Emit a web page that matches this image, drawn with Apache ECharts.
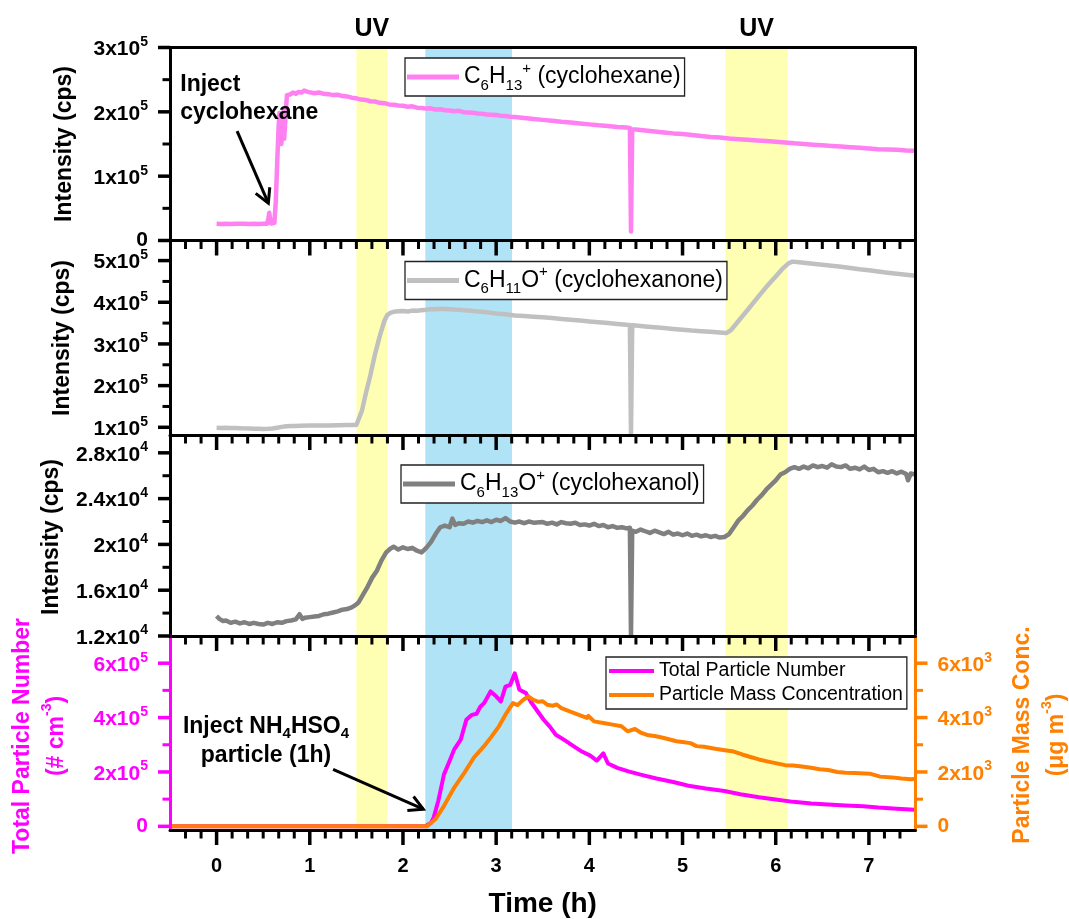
<!DOCTYPE html>
<html>
<head>
<meta charset="utf-8">
<script src="https://cdn.jsdelivr.net/npm/echarts@6/dist/echarts.min.js"></script>
<style>
  html, body { margin: 0; padding: 0; background: #fff; }
  #chart { width: 1069px; height: 919px; }
</style>
</head>
<body>
<div id="chart"></div>
<script>
// ---------- data ----------
// time axis (h)
const timeTicks = [0, 1, 2, 3, 4, 5, 6, 7];

// y tick values per panel
const cyclohexaneTicks = [0, 100000, 200000, 300000];
const cyclohexaneMinor = [50000, 150000, 250000];
const cyclohexanoneTicks = [100000, 200000, 300000, 400000, 500000];
const cyclohexanoneMinor = [150000, 250000, 350000, 450000];
const cyclohexanolTicks = [12000, 16000, 20000, 24000, 28000];
const cyclohexanolMinor = [14000, 18000, 22000, 26000];
const numberTicks = [0, 200000, 400000, 600000];
const numberMinor = [100000, 300000, 500000];
const massTicks = [0, 2000, 4000, 6000];
const massMinor = [1000, 3000, 5000];

// shaded periods [start h, end h, kind]
const periods = [[1.5, 1.833, 'uv'], [2.24, 3.17, 'seed'], [5.46, 6.13, 'uv']];

// C6H13+ (cyclohexane), cps
const cyclohexane = [[0.00,26200],[0.05,25800],[0.10,26000],[0.15,25700],[0.20,26100],[0.25,25900],[0.30,26200],[0.35,25800],[0.40,26000],[0.45,25700],[0.50,26100],[0.54,26000],[0.555,33000],[0.565,43000],[0.575,33000],[0.585,26500],[0.60,26800],[0.62,27500],[0.635,60000],[0.65,120000],[0.665,175000],[0.675,198000],[0.685,170000],[0.695,150000],[0.705,190000],[0.715,200000],[0.725,158000],[0.735,180000],[0.745,205000],[0.755,226000],[0.77,229000],[0.79,227000],[0.82,230000],[0.85,228000],[0.88,231000],[0.91,230000],[0.94,233000],[0.96,234000],[0.98,231000],[1.00,232000],[1.05,229000],[1.10,230000],[1.15,228000],[1.20,227500],[1.25,226000],[1.30,226500],[1.35,224500],[1.40,224000],[1.45,222000],[1.50,221000],[1.55,219000],[1.60,218500],[1.65,216500],[1.70,216000],[1.75,214000],[1.80,213500],[1.85,211500],[1.90,211000],[1.95,210000],[2.00,209500],[2.05,208000],[2.10,208500],[2.15,206500],[2.20,206000],[2.25,205000],[2.30,205500],[2.35,203500],[2.40,204000],[2.45,202500],[2.50,202000],[2.55,201000],[2.60,201500],[2.65,199500],[2.70,199000],[2.75,198500],[2.80,197500],[2.85,197000],[2.90,196000],[2.95,195500],[3.00,195000],[3.05,194000],[3.10,193500],[3.15,192500],[3.20,192000],[3.30,190500],[3.40,189000],[3.50,187500],[3.60,186000],[3.70,184500],[3.80,183500],[3.90,182000],[4.00,180500],[4.10,179000],[4.20,178000],[4.30,176500],[4.40,175500],[4.435,175000],[4.447,14000],[4.46,172500],[4.50,172500],[4.60,171000],[4.70,169500],[4.80,168000],[4.90,166500],[5.00,165500],[5.10,164000],[5.20,162500],[5.30,161000],[5.40,160000],[5.50,158500],[5.60,157500],[5.70,156500],[5.80,155500],[5.90,154500],[6.00,153500],[6.10,152500],[6.20,151000],[6.30,150000],[6.40,149000],[6.50,148000],[6.60,147000],[6.70,146000],[6.80,145000],[6.90,144000],[7.00,143000],[7.10,142000],[7.20,141500],[7.30,141000],[7.40,140000],[7.50,139500]];

// C6H11O+ (cyclohexanone), cps
const cyclohexanone = [[0.00,99000],[0.05,98500],[0.10,98800],[0.15,98200],[0.20,98000],[0.25,97800],[0.30,97400],[0.35,97000],[0.40,96500],[0.45,96200],[0.50,96000],[0.55,96300],[0.60,97000],[0.65,99000],[0.70,101000],[0.75,102500],[0.80,103000],[0.85,103300],[0.90,103500],[1.00,104000],[1.10,104200],[1.20,104500],[1.30,104800],[1.40,105200],[1.50,105500],[1.52,106500],[1.56,140000],[1.60,180000],[1.65,225000],[1.70,275000],[1.75,318000],[1.80,355000],[1.83,369000],[1.87,375000],[1.90,377000],[1.95,378500],[2.00,379000],[2.05,378000],[2.10,380000],[2.15,379500],[2.20,381000],[2.25,382000],[2.30,383500],[2.35,383000],[2.40,384500],[2.45,384000],[2.50,383500],[2.55,382500],[2.60,382000],[2.65,381000],[2.70,380500],[2.75,379000],[2.80,378000],[2.85,377000],[2.90,376000],[2.95,374500],[3.00,373000],[3.10,371000],[3.20,368500],[3.30,367000],[3.40,365500],[3.50,364000],[3.60,362000],[3.70,360000],[3.80,358000],[3.90,356000],[4.00,354000],[4.10,352000],[4.20,350000],[4.30,348000],[4.40,346000],[4.435,345500],[4.447,82000],[4.46,345000],[4.50,344000],[4.60,342000],[4.70,340000],[4.80,338000],[4.90,336000],[5.00,334000],[5.10,332000],[5.20,330500],[5.30,329000],[5.40,327500],[5.47,326000],[5.52,333000],[5.60,355000],[5.70,382000],[5.80,410000],[5.90,437000],[6.00,462000],[6.08,482000],[6.14,494000],[6.18,497500],[6.25,496000],[6.30,495000],[6.40,492500],[6.50,490000],[6.60,487500],[6.70,485000],[6.80,482000],[6.90,479000],[7.00,477000],[7.10,474000],[7.20,471000],[7.30,468500],[7.40,466000],[7.50,463500]];

// C6H13O+ (cyclohexanol), cps
const cyclohexanol = [[0.00,13750],[0.03,13500],[0.07,13300],[0.10,13350],[0.15,13150],[0.20,13250],[0.25,13100],[0.30,13200],[0.35,13050],[0.40,13150],[0.45,13050],[0.50,13000],[0.55,13150],[0.60,13050],[0.65,13200],[0.70,13150],[0.75,13300],[0.80,13350],[0.85,13450],[0.89,13900],[0.92,13500],[0.95,13600],[1.00,13650],[1.05,13700],[1.10,13750],[1.15,13900],[1.20,13950],[1.25,14050],[1.30,14150],[1.35,14300],[1.40,14350],[1.45,14500],[1.48,14650],[1.52,14900],[1.57,15600],[1.62,16300],[1.67,17100],[1.72,17700],[1.77,18600],[1.82,19300],[1.86,19600],[1.90,19800],[1.95,19550],[2.00,19750],[2.05,19600],[2.10,19700],[2.15,19450],[2.20,19300],[2.25,19700],[2.30,20200],[2.35,20900],[2.40,21500],[2.45,21650],[2.50,21500],[2.53,22250],[2.56,21700],[2.60,21850],[2.65,21800],[2.70,22000],[2.75,21900],[2.80,22050],[2.85,21950],[2.90,22100],[2.95,21950],[3.00,22150],[3.05,22050],[3.10,22300],[3.15,22000],[3.20,21900],[3.25,22000],[3.30,21850],[3.35,22000],[3.40,21900],[3.50,21950],[3.55,21800],[3.60,21900],[3.65,21750],[3.70,21950],[3.75,21850],[3.80,21800],[3.85,21900],[3.90,21700],[3.95,21750],[4.00,21650],[4.05,21800],[4.10,21600],[4.15,21700],[4.20,21500],[4.25,21600],[4.30,21450],[4.35,21500],[4.40,21400],[4.435,21450],[4.447,12000],[4.46,21200],[4.50,21100],[4.55,21300],[4.60,21150],[4.65,21000],[4.70,21200],[4.75,21050],[4.80,20900],[4.85,21100],[4.90,20850],[4.95,20950],[5.00,20800],[5.05,20950],[5.10,20750],[5.15,20850],[5.20,20700],[5.25,20800],[5.30,20650],[5.35,20750],[5.40,20600],[5.45,20650],[5.50,20900],[5.55,21500],[5.60,22100],[5.65,22500],[5.70,23000],[5.75,23400],[5.80,23900],[5.85,24300],[5.90,24800],[5.95,25200],[6.00,25600],[6.05,26100],[6.10,26300],[6.15,26600],[6.20,26750],[6.25,26600],[6.30,26800],[6.35,26650],[6.40,26900],[6.45,26750],[6.50,26850],[6.55,26700],[6.60,27000],[6.65,26800],[6.70,26750],[6.75,26900],[6.80,26600],[6.85,26700],[6.90,26550],[6.95,26800],[7.00,26500],[7.05,26600],[7.10,26300],[7.15,26400],[7.20,26250],[7.25,26400],[7.30,26200],[7.35,26350],[7.40,26150],[7.42,25600],[7.45,26200],[7.50,26100]];

// total particle number, # cm-3
const particleNumber = [[-0.5,0],[2.24,0],[2.30,12000],[2.33,33000],[2.38,95000],[2.44,191000],[2.50,240000],[2.55,283000],[2.62,319000],[2.68,392000],[2.74,410000],[2.79,414000],[2.83,440000],[2.87,453000],[2.94,496000],[3.00,478000],[3.05,459000],[3.10,514000],[3.15,520000],[3.20,563000],[3.25,502000],[3.32,490000],[3.37,459000],[3.44,425000],[3.51,392000],[3.58,365000],[3.64,337000],[3.73,318000],[3.83,295000],[3.92,275000],[4.01,260000],[4.08,242000],[4.10,246000],[4.15,268000],[4.20,231000],[4.30,215000],[4.42,202000],[4.55,190000],[4.72,176000],[4.90,163000],[5.00,155000],[5.08,148000],[5.25,139000],[5.45,130000],[5.62,118000],[5.82,107000],[6.00,99000],[6.19,90000],[6.38,84000],[6.56,80000],[6.75,77000],[6.94,74000],[7.10,69000],[7.30,65000],[7.49,61000]];

// particle mass concentration, ug m-3
const particleMass = [[-0.5,0],[2.26,0],[2.35,267],[2.44,753],[2.55,1426],[2.66,1974],[2.72,2300],[2.76,2523],[2.87,2947],[2.95,3300],[3.03,3678],[3.10,4106],[3.18,4534],[3.23,4460],[3.29,4650],[3.345,4775],[3.40,4650],[3.456,4580],[3.50,4600],[3.55,4470],[3.605,4435],[3.65,4480],[3.70,4350],[3.79,4226],[3.88,4110],[3.975,3985],[3.99,4060],[4.05,3861],[4.15,3800],[4.25,3740],[4.345,3678],[4.41,3495],[4.49,3580],[4.55,3450],[4.62,3360],[4.715,3312],[4.80,3250],[4.935,3130],[5.00,3100],[5.085,3060],[5.15,2950],[5.23,2925],[5.35,2850],[5.455,2800],[5.55,2750],[5.64,2643],[5.72,2560],[5.82,2460],[5.92,2380],[6.01,2314],[6.10,2250],[6.19,2241],[6.28,2200],[6.38,2157],[6.47,2100],[6.565,2072],[6.66,2000],[6.75,1974],[6.85,1960],[7.01,1937],[7.12,1828],[7.25,1800],[7.35,1760],[7.45,1730],[7.50,1750]];

// annotation anchors in data units
const cyclohexaneNote = { text: [-0.39, 220000], arrowFrom: [0.22, 170000], arrowTo: [0.555, 58000] };
const seedNote = { text: [0.53, 313700], arrowFrom: [1.25, 209500], arrowTo: [2.218, 63000] };

// ---------- styling ----------
const FONT = '"Liberation Sans", Arial, Helvetica, sans-serif';
const C_HEX = '#FF80F0', C_ONE = '#C0C0C0', C_OL = '#808080', C_NUM = '#FF00FF', C_MASS = '#FF8000';
const UV_COLOR = '#FFFFB3', SEED_COLOR = '#B0E3F5';

// minor time ticks every 10 min
const timeMinor = [];
for (let k = 1; k < 48; k++) { if (k % 6 !== 3) timeMinor.push(-0.5 + k / 6); }

const gridL = 170, gridR = 153.5;
const grids = [
  { left: gridL, right: gridR, top: 47.5, height: 193 },
  { left: gridL, right: gridR, top: 241, height: 194 },
  { left: gridL, right: gridR, top: 436, height: 200 },
  { left: gridL, right: gridR, top: 636, height: 195 },
  { left: gridL, right: gridR, top: 46, height: 785 }   // shading layer
];
const yRanges = [[0, 300000], [81500, 547000], [12000, 29470], [-13500, 700000]];
const massRange = [-135, 7000];

function sciLabel(color) {
  return {
    formatter: function (v) {
      if (v === 0) return '{z|0}';
      const e = Math.floor(Math.log10(Math.abs(v)) + 1e-9);
      const m = Math.round(v / Math.pow(10, e) * 10) / 10;
      return '{m|' + m + 'x10}{e|' + e + '}';
    },
    rich: {
      z: { fontSize: 21, fontWeight: 'bold', fontFamily: FONT, color: color },
      m: { fontSize: 21, fontWeight: 'bold', fontFamily: FONT, color: color, lineHeight: 25, verticalAlign: 'bottom' },
      e: { fontSize: 14, fontWeight: 'bold', fontFamily: FONT, color: color, lineHeight: 14, verticalAlign: 'top' }
    }
  };
}

function xMain(g, showLabel) {
  return {
    type: 'value', gridIndex: g, position: 'bottom', min: -0.5, max: 7.5, z: 10,
    axisLine: { show: true, onZero: false, lineStyle: { color: '#000', width: 3 } },
    axisTick: { show: false },
    axisLabel: { show: showLabel, customValues: timeTicks, margin: 26, fontSize: 20, fontWeight: 'bold', fontFamily: FONT, color: '#000' },
    splitLine: { show: false },
    name: showLabel ? 'Time (h)' : '', nameLocation: 'middle', nameGap: 60,
    nameTextStyle: { fontSize: 28, fontWeight: 'bold', fontFamily: FONT, color: '#000' }
  };
}
function yMain(g, range, ticks, color, position) {
  return {
    type: 'value', gridIndex: g, position: position, min: range[0], max: range[1], z: 10,
    axisLine: { show: true, onZero: false, lineStyle: { color: color, width: 3 } },
    axisTick: { show: false },
    axisLabel: Object.assign({ show: true, customValues: ticks, margin: 22, color: color }, sciLabel(color)),
    splitLine: { show: false }
  };
}
function yBorder(g, range) {
  return {
    type: 'value', gridIndex: g, position: 'right', min: range[0], max: range[1], z: 10,
    axisLine: { show: true, onZero: false, lineStyle: { color: '#000', width: 3 } },
    axisTick: { show: false }, axisLabel: { show: false }, splitLine: { show: false }
  };
}

const xAxes = [
  xMain(0, false), xMain(1, false), xMain(2, false), xMain(3, true),          // 0-3
  { type: 'value', gridIndex: 0, position: 'top', min: -0.5, max: 7.5, z: 10,   // 4 top frame
    axisLine: { show: true, onZero: false, lineStyle: { color: '#000', width: 3 } },
    axisTick: { show: false }, axisLabel: { show: false }, splitLine: { show: false } },
  { type: 'value', gridIndex: 4, min: -0.5, max: 7.5, show: false }           // 5 shading
];
const yAxes = [
  yMain(0, yRanges[0], cyclohexaneTicks, '#000', 'left'),                      // 0
  yMain(1, yRanges[1], cyclohexanoneTicks, '#000', 'left'),                    // 1
  yMain(2, yRanges[2], cyclohexanolTicks, '#000', 'left'),                     // 2
  yMain(3, yRanges[3], numberTicks, C_NUM, 'left'),                            // 3
  yBorder(0, yRanges[0]), yBorder(1, yRanges[1]), yBorder(2, yRanges[2]),      // 4-6
  yMain(3, massRange, massTicks, C_MASS, 'right'),                             // 7
  { type: 'value', gridIndex: 4, min: 0, max: 1, show: false }                 // 8
];

// legend text with sub/superscripts
const legendText = {
  'C6H13+ (cyclohexane)': '{n|C}{d|6}{n|H}{d|13}{u|+}{n| (cyclohexane)}',
  'C6H11O+ (cyclohexanone)': '{n|C}{d|6}{n|H}{d|11}{n|O}{u|+}{n| (cyclohexanone)}',
  'C6H13O+ (cyclohexanol)': '{n|C}{d|6}{n|H}{d|13}{n|O}{u|+}{n| (cyclohexanol)}'
};
const legendRich = {
  n: { fontSize: 23, fontFamily: FONT, color: '#000', lineHeight: 32 },
  d: { fontSize: 15, fontFamily: FONT, color: '#000', lineHeight: 15, verticalAlign: 'bottom' },
  u: { fontSize: 15, fontFamily: FONT, color: '#000', lineHeight: 15, verticalAlign: 'top' }
};
function molLegend(name, left, top) {
  return {
    data: [name], left: left, top: top, orient: 'vertical', selectedMode: false,
    icon: 'rect', itemWidth: 52, itemHeight: 5,
    backgroundColor: '#fff', borderColor: '#222', borderWidth: 1.3, padding: [3, 4, 3, 2],
    formatter: function (n) { return legendText[n]; },
    textStyle: { rich: legendRich }
  };
}

function lineSeries(name, data, color, xi, yi, width) {
  return {
    name: name, type: 'line', data: data, xAxisIndex: xi, yAxisIndex: yi,
    showSymbol: false, symbol: 'none', color: color, z: 3, clip: true,
    lineStyle: { color: color, width: width, join: 'round' }, animation: false
  };
}

// tick marks as a custom series: each item is [x, y, dx, dy, lineWidth] (dx/dy = pixel offset of the tick end)
function tickSeries(xi, yi, items, color) {
  return {
    type: 'custom', xAxisIndex: xi, yAxisIndex: yi, data: items, clip: false, silent: true,
    z: 12, animation: false,
    renderItem: function (params, api) {
      const p = api.coord([api.value(0), api.value(1)]);
      return {
        type: 'line',
        shape: { x1: p[0], y1: p[1], x2: p[0] + api.value(2), y2: p[1] + api.value(3) },
        style: { stroke: color, lineWidth: api.value(4) }
      };
    }
  };
}
function xTickItems(yMin) {
  return timeTicks.map(function (t) { return [t, yMin, 0, 15, 3.5]; })
    .concat(timeMinor.map(function (t) { return [t, yMin, 0, 8.5, 3]; }));
}
function yTickItems(major, minor, xEdge, side) {
  return major.map(function (v) { return [xEdge, v, side * 12, 0, 3.5]; })
    .concat(minor.map(function (v) { return [xEdge, v, side * 7.5, 0, 3]; }));
}

const option = {
  backgroundColor: '#fff',
  animation: false,
  grid: grids,
  xAxis: xAxes,
  yAxis: yAxes,
  legend: [
    molLegend('C6H13+ (cyclohexane)', 405, 58),
    molLegend('C6H11O+ (cyclohexanone)', 405, 261.5),
    molLegend('C6H13O+ (cyclohexanol)', 401, 465),
    {
      data: ['Total Particle Number', 'Particle Mass Concentration'], left: 606, top: 657,
      orient: 'vertical', selectedMode: false, icon: 'rect', itemWidth: 45, itemHeight: 4, itemGap: 2,
      backgroundColor: '#fff', borderColor: '#222', borderWidth: 1.3, padding: [3, 4, 3, 3],
      textStyle: { fontSize: 19.5, fontFamily: FONT, color: '#000', lineHeight: 22 }
    }
  ],
  series: [
    {
      type: 'line', xAxisIndex: 5, yAxisIndex: 8, data: [[-0.5, 0]], silent: true,
      showSymbol: false, symbol: 'none', lineStyle: { opacity: 0 }, z: 1,
      markArea: {
        silent: true,
        data: periods.map(function (p) {
          return [{ xAxis: p[0], itemStyle: { color: p[2] === 'uv' ? UV_COLOR : SEED_COLOR, opacity: 1 } }, { xAxis: p[1] }];
        })
      }
    },
    lineSeries('C6H13+ (cyclohexane)', cyclohexane, C_HEX, 0, 0, 4.5),
    lineSeries('C6H11O+ (cyclohexanone)', cyclohexanone, C_ONE, 1, 1, 4.5),
    lineSeries('C6H13O+ (cyclohexanol)', cyclohexanol, C_OL, 2, 2, 4.5),
    lineSeries('Total Particle Number', particleNumber, C_NUM, 3, 3, 4),
    lineSeries('Particle Mass Concentration', particleMass, C_MASS, 3, 7, 4),
    // tick marks of each panel
    tickSeries(0, 0, xTickItems(yRanges[0][0]).concat(yTickItems(cyclohexaneTicks, cyclohexaneMinor, -0.5, -1)), '#000'),
    tickSeries(1, 1, xTickItems(yRanges[1][0]).concat(yTickItems(cyclohexanoneTicks, cyclohexanoneMinor, -0.5, -1)), '#000'),
    tickSeries(2, 2, xTickItems(yRanges[2][0]).concat(yTickItems(cyclohexanolTicks, cyclohexanolMinor, -0.5, -1)), '#000'),
    tickSeries(3, 3, xTickItems(yRanges[3][0]), '#000'),
    tickSeries(3, 3, yTickItems(numberTicks, numberMinor, -0.5, -1), C_NUM),
    tickSeries(3, 7, yTickItems(massTicks, massMinor, 7.5, 1), C_MASS)
  ]
};

const chart = echarts.init(document.getElementById('chart'), null, { renderer: 'canvas' });
chart.setOption(option);

const graphics = [];
// pixel position of a data point in the panel of the given series
const px = function (seriesIndex, p) { return chart.convertToPixel({ seriesIndex: seriesIndex }, p); };

// ---------- annotations ----------
function arrow(a, b) {
  const ang = Math.atan2(b[1] - a[1], b[0] - a[0]);
  const L = 16, spread = 0.5;
  const p1 = [b[0] - L * Math.cos(ang - spread), b[1] - L * Math.sin(ang - spread)];
  const p2 = [b[0] - L * Math.cos(ang + spread), b[1] - L * Math.sin(ang + spread)];
  graphics.push(
    { type: 'line', z: 20, shape: { x1: a[0], y1: a[1], x2: b[0], y2: b[1] }, style: { stroke: '#000', lineWidth: 3 } },
    { type: 'polyline', z: 20, shape: { points: [p1, b, p2] }, style: { stroke: '#000', lineWidth: 3, fill: null } }
  );
}
const bold = function (size, color) {
  return { fontSize: size, fontWeight: 'bold', fontFamily: FONT, fill: color || '#000' };
};

// UV labels above each UV period
periods.filter(function (p) { return p[2] === 'uv'; }).forEach(function (p) {
  const x = px(1, [(p[0] + p[1]) / 2, 0])[0];
  graphics.push({ type: 'text', x: x, y: 29, z: 20,
    style: Object.assign({ text: 'UV', align: 'center', verticalAlign: 'middle' }, bold(25)) });
});

// injection notes
const t1 = px(1, cyclohexaneNote.text);
graphics.push({ type: 'text', x: t1[0], y: t1[1], z: 20,
  style: Object.assign({ text: 'Inject\ncyclohexane', align: 'left', verticalAlign: 'middle', lineHeight: 28 }, bold(23)) });
arrow(px(1, cyclohexaneNote.arrowFrom), px(1, cyclohexaneNote.arrowTo));

const t2 = px(4, seedNote.text);
graphics.push({ type: 'text', x: t2[0], y: t2[1], z: 20,
  style: {
    text: '{a|Inject NH}{b|4}{a|HSO}{b|4}\n{a|particle (1h)}', align: 'center', verticalAlign: 'middle',
    rich: {
      a: { fontSize: 23, fontWeight: 'bold', fontFamily: FONT, fill: '#000', lineHeight: 29 },
      b: { fontSize: 15, fontWeight: 'bold', fontFamily: FONT, fill: '#000', lineHeight: 15, verticalAlign: 'bottom' }
    }
  } });
arrow(px(4, seedNote.arrowFrom), px(4, seedNote.arrowTo));

// axis titles
[[65, 144], [63, 338], [52, 537]].forEach(function (pos) {
  graphics.push({ type: 'text', x: pos[0], y: pos[1], rotation: Math.PI / 2, z: 20,
    style: Object.assign({ text: 'Intensity (cps)', align: 'center', verticalAlign: 'middle' }, bold(23)) });
});
function titleRich(color) {
  return {
    t: { fontSize: 23, fontWeight: 'bold', fontFamily: FONT, fill: color, lineHeight: 34 },
    s: { fontSize: 14, fontWeight: 'bold', fontFamily: FONT, fill: color, lineHeight: 14, verticalAlign: 'top' }
  };
}
graphics.push({ type: 'text', x: 40, y: 736, rotation: Math.PI / 2, z: 20,
  style: { text: '{t|Total Particle Number}\n{t|(# cm}{s|-3}{t|)}', align: 'center', verticalAlign: 'middle', rich: titleRich(C_NUM) } });
graphics.push({ type: 'text', x: 1040, y: 735, rotation: Math.PI / 2, z: 20,
  style: { text: '{t|Particle Mass Conc.}\n{t|(\u03bcg m}{s|-3}{t|)}', align: 'center', verticalAlign: 'middle', rich: titleRich(C_MASS) } });

chart.setOption({ graphic: graphics });
</script>
</body>
</html>
